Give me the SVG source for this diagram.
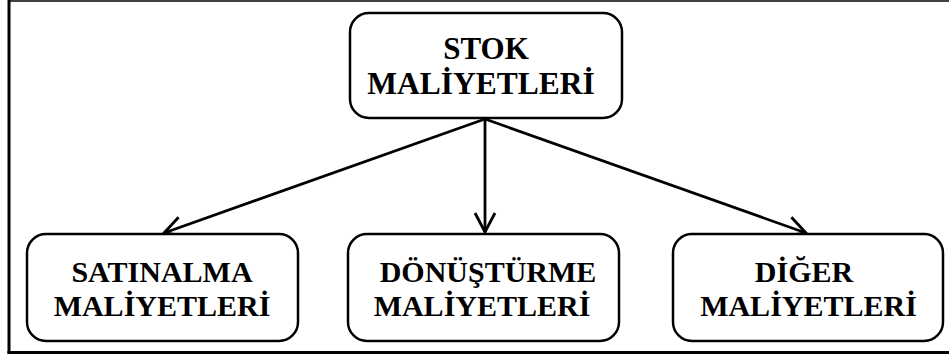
<svg xmlns="http://www.w3.org/2000/svg" width="949" height="360" viewBox="0 0 949 360">
<style>
.box{fill:#fff;stroke:#000;stroke-width:2.5}
.t{font-family:"Liberation Serif",serif;font-weight:700;font-size:30px;fill:#000;text-anchor:middle}
.c{stroke:#000;stroke-width:2.8;fill:none}
</style>
<defs>
<marker id="ah" markerUnits="userSpaceOnUse" markerWidth="30" markerHeight="30" viewBox="-22 -15 30 30" refX="0" refY="0" orient="auto">
<path d="M-19,-10 L0,0 L-19,10" fill="none" stroke="#000" stroke-width="2.8"/>
</marker>
</defs>
<rect width="949" height="360" fill="#fff"/>
<g id="frame">
<line x1="9" y1="1" x2="949" y2="1" stroke="#000" stroke-width="1.5"/>
<line x1="9" y1="0" x2="9" y2="353.5" stroke="#000" stroke-width="3"/>
<line x1="7.5" y1="352.5" x2="949" y2="352.5" stroke="#000" stroke-width="3"/>
</g>
<g id="connectors">
<line class="c" x1="485" y1="119" x2="164" y2="233" marker-end="url(#ah)"/>
<line class="c" x1="485" y1="119" x2="485" y2="232" marker-end="url(#ah)"/>
<line class="c" x1="485" y1="119" x2="806" y2="233" marker-end="url(#ah)"/>
</g>
<g id="stok">
<rect class="box" x="350" y="13" width="272" height="105" rx="19"/>
<text class="t" x="486" y="59" style="font-size:31px">STOK</text>
<text class="t" x="481" y="94" style="font-size:31.5px">MALİYETLERİ</text>
</g>
<g id="satinalma">
<rect class="box" x="27" y="234" width="271" height="107" rx="19"/>
<text class="t" x="162" y="282">SATINALMA</text>
<text class="t" x="162" y="316">MALİYETLERİ</text>
</g>
<g id="donusturme">
<rect class="box" x="348" y="234" width="271" height="107" rx="19"/>
<text class="t" x="488" y="282">DÖNÜŞTÜRME</text>
<text class="t" x="482" y="316">MALİYETLERİ</text>
</g>
<g id="diger">
<rect class="box" x="673" y="234" width="270" height="107" rx="19"/>
<text class="t" x="804" y="282">DİĞER</text>
<text class="t" x="808.5" y="316">MALİYETLERİ</text>
</g>
</svg>
